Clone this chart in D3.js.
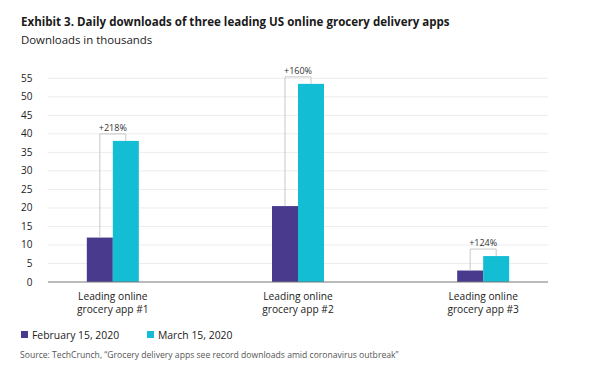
<!DOCTYPE html>
<html>
<head>
<meta charset="utf-8">
<script src="https://cdn.jsdelivr.net/npm/d3@7"></script>
<style>
  body { margin: 0; background: #fff; }
  svg text { font-family: "Open Sans", "Noto Sans", sans-serif; }
</style>
</head>
<body>
<div id="chart"></div>
<script>
// chart data
var apps = ["Leading online|grocery app #1", "Leading online|grocery app #2", "Leading online|grocery app #3"];
var feb = [12, 20.5, 3.1];
var mar = [38.1, 53.5, 7];
var growth = ["+218%", "+160%", "+124%"];
var seriesNames = ["February 15, 2020", "March 15, 2020"];
var yTicks = [0, 5, 10, 15, 20, 25, 30, 35, 40, 45, 50, 55];

function init(){
    var w = 600, h = 382;
    var colors = ["#4a3a8e", "#13bdd3"];

    var svg = d3.select("#chart")
                .append("svg")
                .attr("width", w)
                .attr("height", h);

    // title + subtitle
    svg.append("text")
        .attr("x", 21).attr("y", 26)
        .attr("font-size", 11.55)
        .attr("font-weight", "bold")
        .attr("fill", "#1a1a1a")
        .text("Exhibit 3. Daily downloads of three leading US online grocery delivery apps");
    svg.append("text")
        .attr("x", 21).attr("y", 43.5)
        .attr("font-size", 11.4)
        .attr("fill", "#222")
        .text("Downloads in thousands");

    var x0 = 48, x1 = 548;
    var xScale = d3.scalePoint()
                    .domain(apps)
                    .range([x0, x1])
                    .padding(0.35);
    var yScale = d3.scaleLinear()
                    .domain([0, 55])
                    .range([282, 78.3]);
    var barW = 26;

    // gridlines
    svg.selectAll(".grid")
        .data(yTicks.filter(function(d){ return d > 0; }))
        .enter()
        .append("line")
        .attr("x1", x0).attr("x2", x1)
        .attr("y1", function(d){ return yScale(d); })
        .attr("y2", function(d){ return yScale(d); })
        .attr("stroke", "#ececec")
        .attr("stroke-width", 1);

    // y tick labels
    svg.selectAll(".ytick")
        .data(yTicks)
        .enter()
        .append("text")
        .attr("x", 32.5)
        .attr("y", function(d){ return yScale(d) + 3.5; })
        .attr("text-anchor", "end")
        .attr("font-size", 10)
        .attr("fill", "#222")
        .text(function(d){ return d; });

    // bars
    var groups = svg.selectAll(".app")
        .data(apps)
        .enter()
        .append("g");

    groups.append("rect")
        .attr("x", function(d){ return xScale(d) - barW; })
        .attr("y", function(d, i){ return yScale(feb[i]); })
        .attr("width", barW)
        .attr("height", function(d, i){ return yScale(0) - yScale(feb[i]); })
        .attr("fill", colors[0]);

    groups.append("rect")
        .attr("x", function(d){ return xScale(d); })
        .attr("y", function(d, i){ return yScale(mar[i]); })
        .attr("width", barW)
        .attr("height", function(d, i){ return yScale(0) - yScale(mar[i]); })
        .attr("fill", colors[1]);

    // growth brackets
    groups.append("path")
        .attr("d", function(d, i){
            var l = xScale(d) - barW / 2, r = xScale(d) + barW / 2;
            var top = yScale(mar[i]) - 7;
            return "M" + l + "," + yScale(feb[i]) + "V" + top + "H" + r + "V" + yScale(mar[i]);
        })
        .attr("fill", "none")
        .attr("stroke", "#c8c8c8")
        .attr("stroke-width", 1);

    groups.append("text")
        .attr("x", function(d){ return xScale(d); })
        .attr("y", function(d, i){ return yScale(mar[i]) - 10; })
        .attr("text-anchor", "middle")
        .attr("font-size", 9)
        .attr("fill", "#333")
        .text(function(d, i){ return growth[i]; });

    // x axis line
    svg.append("line")
        .attr("x1", x0).attr("x2", x1)
        .attr("y1", yScale(0)).attr("y2", yScale(0))
        .attr("stroke", "#777")
        .attr("stroke-width", 1);

    // category labels (two lines)
    groups.append("text")
        .attr("text-anchor", "middle")
        .attr("font-size", 10.2)
        .attr("fill", "#222")
        .selectAll("tspan")
        .data(function(d){ return d.split("|").map(function(s){ return {s: s, c: d}; }); })
        .enter()
        .append("tspan")
        .attr("x", function(t){ return xScale(t.c); })
        .attr("y", function(t, j){ return 300 + j * 12.5; })
        .text(function(t){ return t.s; });

    // legend
    var legX = [21, 147];
    seriesNames.forEach(function(name, i){
        svg.append("rect")
            .attr("x", legX[i]).attr("y", 331)
            .attr("width", 7).attr("height", 7)
            .attr("fill", colors[i]);
        svg.append("text")
            .attr("x", legX[i] + 11).attr("y", 339)
            .attr("font-size", 10.4)
            .attr("fill", "#222")
            .text(name);
    });

    // source
    svg.append("text")
        .attr("x", 20).attr("y", 357.5)
        .attr("font-size", 8.6)
        .attr("fill", "#555")
        .text("Source: TechCrunch, \u201cGrocery delivery apps see record downloads amid coronavirus outbreak\u201d");
}
window.onload = init;
</script>
</body>
</html>
